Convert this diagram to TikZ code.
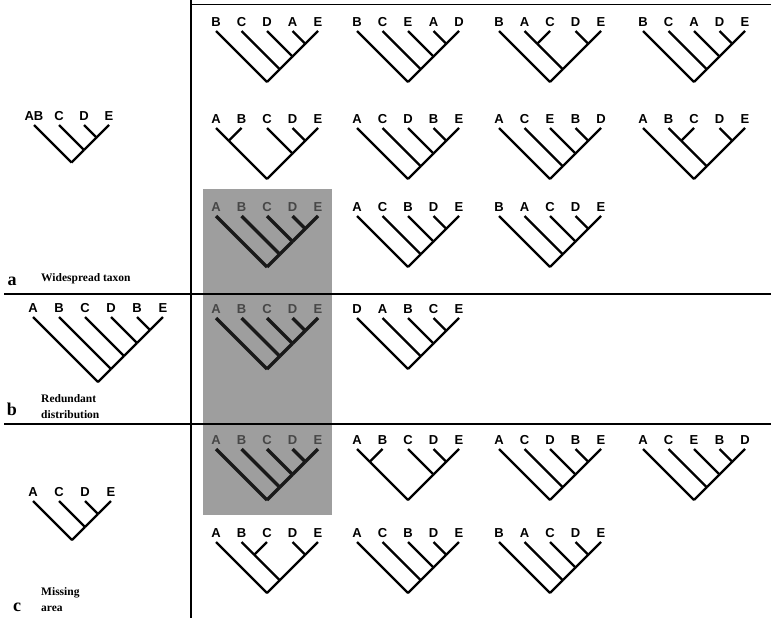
\documentclass[tikz,border=0pt]{standalone}
\usepackage{fontspec}
\setmainfont{Liberation Serif}
\newfontfamily\labfont{Liberation Sans}
\usetikzlibrary{calc}

% leaves: prefix, x0, y of tips, spacing, labels
\newcommand{\tleaves}[5]{%
  \foreach \lab [count=\i] in {#5} {
    \coordinate (#1-\i) at ({#2+#4*(\i-1)},#3);
    \node[lab] (#1-l\i) at ([yshift=4.5pt]#1-\i) {\lab};
  }}
% clade node: prefix, i, j, spacing
\newcommand{\tclade}[4]{%
  \coordinate (#1-#2-#3) at ($(#1-#2)!0.5!(#1-#3)+(0,{#4*(#3-#2)/2})$);}
% comb tree: prefix, x0, y, spacing, n, labels
\newcommand{\combtree}[6]{%
  \tleaves{#1}{#2}{#3}{#4}{#6}
  \pgfmathtruncatemacro{\tn}{#5-1}
  \foreach \i in {1,...,\tn} {
    \tclade{#1}{\i}{#5}{#4}
    \draw[br] (#1-\i) -- (#1-\i-#5);
  }
  \draw[br] (#1-#5) -- (#1-\tn-#5);
  \foreach \i [evaluate=\i as \j using int(\i-1)] in {2,...,\tn} {
    \draw[br] (#1-\i-#5) -- (#1-\j-#5);
  }}
% (1,((2,3),(4,5)))
\newcommand{\twopairtree}[5]{%
  \tleaves{#1}{#2}{#3}{#4}{#5}
  \tclade{#1}{2}{3}{#4}\tclade{#1}{4}{5}{#4}\tclade{#1}{2}{5}{#4}\tclade{#1}{1}{5}{#4}
  \draw[br] (#1-1) -- (#1-1-5);
  \draw[br] (#1-2) -- (#1-2-3);
  \draw[br] (#1-3) -- (#1-2-3);
  \draw[br] (#1-2-3) -- (#1-2-5);
  \draw[br] (#1-4) -- (#1-4-5);
  \draw[br] (#1-5) -- (#1-4-5);
  \draw[br] (#1-4-5) -- (#1-2-5);
  \draw[br] (#1-2-5) -- (#1-1-5);}
% ((1,2),(3,(4,5)))
\newcommand{\pairfirsttree}[5]{%
  \tleaves{#1}{#2}{#3}{#4}{#5}
  \tclade{#1}{1}{2}{#4}\tclade{#1}{4}{5}{#4}\tclade{#1}{3}{5}{#4}\tclade{#1}{1}{5}{#4}
  \draw[br] (#1-1) -- (#1-1-2);
  \draw[br] (#1-2) -- (#1-1-2);
  \draw[br] (#1-1-2) -- (#1-1-5);
  \draw[br] (#1-3) -- (#1-3-5);
  \draw[br] (#1-4) -- (#1-4-5);
  \draw[br] (#1-5) -- (#1-4-5);
  \draw[br] (#1-4-5) -- (#1-3-5);
  \draw[br] (#1-3-5) -- (#1-1-5);}

\begin{document}
\begin{tikzpicture}[x=1pt,y=-1pt,
  br/.style={line width=2.4pt, line cap=square},
  lab/.style={font=\labfont\bfseries\fontsize{13}{13}\selectfont, anchor=base, inner sep=0pt},
  frame/.style={line width=1.3pt},
  plab/.style={font=\bfseries\fontsize{18}{18}\selectfont, inner sep=0pt},
  desc/.style={font=\bfseries\fontsize{11.5}{16}\selectfont, anchor=west, align=left, inner sep=0pt},
  shadebox/.style={fill=black!38}]
\useasboundingbox (0,0) rectangle (771,618);

% shaded column
\fill[shadebox] (203,189) rectangle (332,515);

% frame lines
\draw[line width=0.8pt] (191,4) -- (771,4);
\draw[frame] (191,0) -- (191,618);
\draw[frame] (4,294) -- (771,294);
\draw[frame] (4,424) -- (771,424);

% left column trees
\combtree{la}{34}{125}{25}{4}{AB,C,D,E}
\combtree{lb}{33}{317}{26}{6}{A,B,C,D,B,E}
\combtree{lc}{33}{501}{26}{4}{A,C,D,E}

% panel labels
\node[plab] (pa) at (12,281) {a};
\node[desc] (ta) at (41,279) {Widespread taxon};
\node[plab] (pb) at (12,409) {b};
\node[desc] (tb) at (41,406.5) {Redundant\\distribution};
\node[plab] (pc) at (17,607) {c};
\node[desc] (tc) at (41,600) {Missing\\area};

% row 1
\combtree{t1}{216}{31}{25.5}{5}{B,C,D,A,E}
\combtree{t2}{357}{31}{25.5}{5}{B,C,E,A,D}
\twopairtree{t3}{499}{31}{25.5}{B,A,C,D,E}
\combtree{t4}{643}{31}{25.5}{5}{B,C,A,D,E}

% row 2
\pairfirsttree{t5}{216}{128}{25.5}{A,B,C,D,E}
\combtree{t6}{357}{128}{25.5}{5}{A,C,D,B,E}
\combtree{t7}{499}{128}{25.5}{5}{A,C,E,B,D}
\twopairtree{t8}{643}{128}{25.5}{A,B,C,D,E}

% row 3
\combtree{t10}{357}{216}{25.5}{5}{A,C,B,D,E}
\combtree{t11}{499}{216}{25.5}{5}{B,A,C,D,E}

% panel b
\combtree{t13}{357}{318}{25.5}{5}{D,A,B,C,E}

% panel c
\pairfirsttree{t15}{357}{449}{25.5}{A,B,C,D,E}
\combtree{t16}{499}{449}{25.5}{5}{A,C,D,B,E}
\combtree{t17}{643}{449}{25.5}{5}{A,C,E,B,D}
\twopairtree{t18}{216}{542}{25.5}{A,B,C,D,E}
\combtree{t19}{357}{542}{25.5}{5}{A,C,B,D,E}
\combtree{t20}{499}{542}{25.5}{5}{B,A,C,D,E}

% shaded trees
\begin{scope}[br/.style={line width=3.2pt, line cap=square, draw=black!90},
              lab/.append style={text=black!72}]
\combtree{t9}{216}{216}{25.5}{5}{A,B,C,D,E}
\combtree{t12}{216}{318}{25.5}{5}{A,B,C,D,E}
\combtree{t14}{216}{449}{25.5}{5}{A,B,C,D,E}
\end{scope}
\end{tikzpicture}
\end{document}
